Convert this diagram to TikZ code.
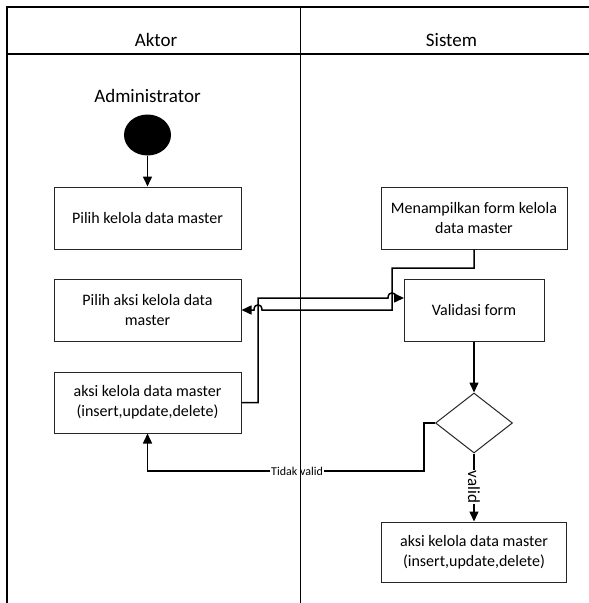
\documentclass[tikz,border=0pt]{standalone}
\usepackage{fontspec}
\setmainfont{Carlito}
\usetikzlibrary{arrows.meta,shapes.geometric}
\begin{document}
\begin{tikzpicture}[x=1pt,y=-1pt,
  lane/.style={line width=1.3pt, draw=black},
  actbox/.style={draw=black!85, line width=1pt, fill=white, minimum width=187pt, minimum height=62pt, inner sep=2pt, align=center, font=\fontsize{16}{20}\selectfont},
  flow/.style={line width=1.5pt, -{Triangle[length=10pt,width=9pt]}},
  hdr/.style={font=\fontsize{19}{22}\selectfont, anchor=base, inner sep=0pt},
  lbl/.style={fill=white, inner sep=1pt}]
\useasboundingbox (0,0) rectangle (589,603);

% header texts
\node[hdr] (aktor) at (156,46) {Aktor};
\node[hdr] (sistem) at (451.5,46) {Sistem};
\node[hdr] (admin) at (147.5,102) {Administrator};

% start node
\node[ellipse, fill=black, minimum width=47pt, minimum height=41pt, inner sep=0pt] (start) at (147.5,135) {};

% activities
\node[actbox] (b1) at (147.5,218) {Pilih kelola data master};
\node[actbox] (b2) at (147.5,310) {Pilih aksi kelola data\\master};
\node[actbox, minimum height=61pt] (b3) at (147.5,402.5) {aksi kelola data master\\(insert,update,delete)};
\node[actbox, minimum width=186pt] (m1) at (474,218) {Menampilkan form kelola\\data master};
\node[actbox, minimum width=140pt] (v) at (474,310) {Validasi form};
\node[diamond, draw=black!85, line width=1pt, fill=white, minimum width=77pt, minimum height=60pt, aspect=1.28, inner sep=0pt] (d) at (474,423) {};
\node[actbox, minimum width=185pt, minimum height=60pt] (fin) at (474,552) {aksi kelola data master\\(insert,update,delete)};

\coordinate (vin) at (404,298);

% connectors
\draw[flow] (start) -- (b1);
\draw[flow] (m1.south) -- (474,268) -- (392,268) -- (392,310) -- (262,310) .. controls (262,303) and (254,303) .. (254,310) -- (b2.east);
\draw[flow] (b3.east) -- (258,402.5) -- (258,298) -- (388,298) .. controls (388,291) and (396,291) .. (396,298) -- (vin);
\draw[flow] (v.south) -- (d.north);
\draw[flow] (d.west) -- (424,423) -- (424,471) -- (147.5,471) -- (b3.south);
\draw[flow] (d.south) -- (fin.north);
\node[lbl, font=\fontsize{12}{14}\selectfont] (tv) at (297,471) {Tidak valid};
\node[lbl, rotate=-90, font=\fontsize{17}{20}\selectfont] (vl) at (474,487) {valid};

% swimlanes
\draw[lane] (7,603) -- (7,7) -- (589,7);
\draw[lane] (7,54) -- (589,54);
\draw[lane] (300.7,7) -- (300.7,603);
\end{tikzpicture}
\end{document}
